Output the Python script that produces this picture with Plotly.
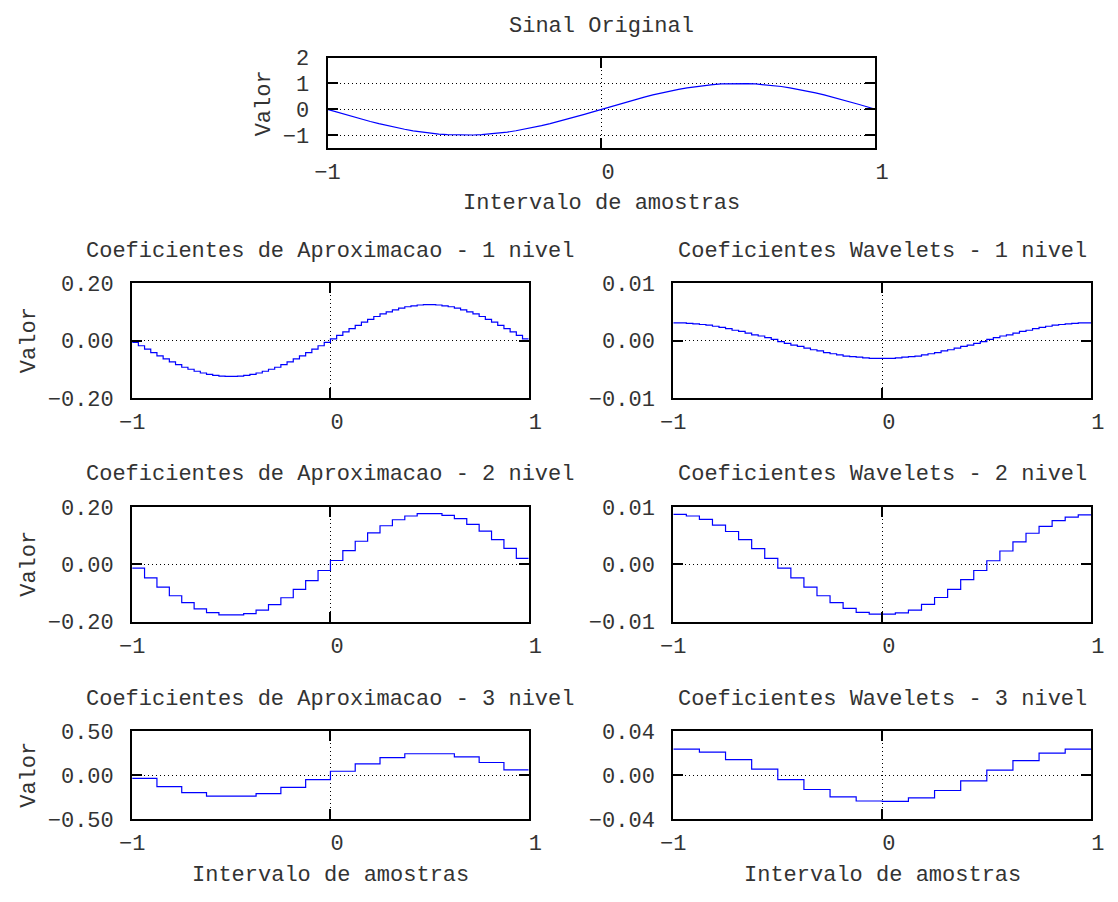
import numpy as np
import plotly.graph_objects as go

W, H = 1118, 902
FONT = "Liberation Mono"
FS = 22
TXT = "#333333"

# ---- data ----
signal_x = np.linspace(-1, 1, 65)
signal = [0.000, -0.098, -0.195, -0.290, -0.383, -0.471, -0.556, -0.634, -0.707, -0.773,
          -0.831, -0.882, -0.924, -0.957, -0.981, -0.995, -1.000, -0.995, -0.981, -0.957,
          -0.924, -0.882, -0.831, -0.773, -0.707, -0.634, -0.556, -0.471, -0.383, -0.290,
          -0.195, -0.098, 0.000, 0.098, 0.195, 0.290, 0.383, 0.471, 0.556, 0.634,
          0.707, 0.773, 0.831, 0.882, 0.924, 0.957, 0.981, 0.995, 1.000, 0.995,
          0.981, 0.957, 0.924, 0.882, 0.831, 0.773, 0.707, 0.634, 0.556, 0.471,
          0.383, 0.290, 0.195, 0.098, 0.000]

approx1 = [-0.006, -0.018, -0.030, -0.042, -0.053, -0.064, -0.074, -0.084, -0.093, -0.100,
           -0.107, -0.113, -0.118, -0.121, -0.124, -0.125, -0.125, -0.124, -0.121, -0.118,
           -0.113, -0.107, -0.100, -0.093, -0.084, -0.074, -0.064, -0.053, -0.042, -0.030,
           -0.018, -0.006,
           0.006, 0.018, 0.030, 0.042, 0.053, 0.064, 0.074, 0.084, 0.093, 0.100,
           0.107, 0.113, 0.118, 0.121, 0.124, 0.125, 0.125, 0.124, 0.121, 0.118,
           0.113, 0.107, 0.100, 0.093, 0.084, 0.074, 0.064, 0.053, 0.042, 0.030,
           0.018, 0.006]

detail1 = [0.0031, 0.0031, 0.0030, 0.0029, 0.0028, 0.0027, 0.0025, 0.0023, 0.0021, 0.0018,
           0.0016, 0.0013, 0.0010, 0.0008, 0.0005, 0.0002, -0.0002, -0.0005, -0.0008, -0.0010,
           -0.0013, -0.0016, -0.0018, -0.0021, -0.0023, -0.0025, -0.0027, -0.0028, -0.0029, -0.0030,
           -0.0031, -0.0031,
           -0.0031, -0.0031, -0.0030, -0.0029, -0.0028, -0.0027, -0.0025, -0.0023, -0.0021, -0.0018,
           -0.0016, -0.0013, -0.0010, -0.0008, -0.0005, -0.0002, 0.0002, 0.0005, 0.0008, 0.0010,
           0.0013, 0.0016, 0.0018, 0.0021, 0.0023, 0.0025, 0.0027, 0.0028, 0.0029, 0.0030,
           0.0031, 0.0031]

approx2 = [-0.014, -0.048, -0.080, -0.110, -0.134, -0.156, -0.169, -0.177, -0.177, -0.172,
           -0.160, -0.141, -0.117, -0.088, -0.057, -0.022, 0.013, 0.047, 0.080, 0.109,
           0.134, 0.155, 0.168, 0.176, 0.176, 0.170, 0.159, 0.139, 0.115, 0.086,
           0.055, 0.020]

detail2 = [0.0087, 0.0084, 0.0078, 0.0068, 0.0057, 0.0043, 0.0027, 0.0010, -0.0007, -0.0024,
           -0.0040, -0.0055, -0.0067, -0.0077, -0.0084, -0.0087, -0.0087, -0.0085, -0.0080, -0.0070,
           -0.0058, -0.0044, -0.0027, -0.0011, 0.0006, 0.0023, 0.0039, 0.0054, 0.0066, 0.0076,
           0.0082, 0.0086]

approx3 = [-0.036, -0.130, -0.200, -0.240, -0.240, -0.210, -0.140, -0.050,
           0.045, 0.130, 0.200, 0.245, 0.245, 0.210, 0.145, 0.060]

detail3 = [0.0239, 0.0210, 0.0143, 0.0055, -0.0041, -0.0131, -0.0198, -0.0236,
           -0.0239, -0.0207, -0.0140, -0.0052, 0.0047, 0.0134, 0.0201, 0.0239]

x_ticks = [-1, 0, 1]
x_ticktext = ["\u22121", "\u00a00", "\u00a01"]

panels = [
    # (values, y ticks, y tick labels, y range, title)
    (approx1, [-0.2, 0, 0.2], ["\u22120.20", "0.00", "0.20"], [-0.2, 0.2], "Coeficientes de Aproximacao - 1 nivel"),
    (detail1, [-0.01, 0, 0.01], ["\u22120.01", "0.00", "0.01"], [-0.01, 0.01], "Coeficientes Wavelets - 1 nivel"),
    (approx2, [-0.2, 0, 0.2], ["\u22120.20", "0.00", "0.20"], [-0.2, 0.2], "Coeficientes de Aproximacao - 2 nivel"),
    (detail2, [-0.01, 0, 0.01], ["\u22120.01", "0.00", "0.01"], [-0.01, 0.01], "Coeficientes Wavelets - 2 nivel"),
    (approx3, [-0.5, 0, 0.5], ["\u22120.50", "0.00", "0.50"], [-0.5, 0.5], "Coeficientes de Aproximacao - 3 nivel"),
    (detail3, [-0.04, 0, 0.04], ["\u22120.04", "0.00", "0.04"], [-0.04, 0.04], "Coeficientes Wavelets - 3 nivel"),
]

# ---- layout geometry (pixels) ----
top_box = (322, 883, 49, 142)
col_x = [(122, 528), (676, 1104)]
row_y = [(281, 399), (511, 629), (742, 832)]


def px_x(v):
    return v / W


def px_y(v):
    return 1 - v / H


def axis_common():
    return dict(
        showline=True, linewidth=2, linecolor="black", mirror="ticks",
        ticks="inside", ticklen=10, tickwidth=1.5, tickcolor="black",
        showgrid=True, gridcolor="black", gridwidth=1, griddash="1px,3px",
        zeroline=False, tickfont=dict(family=FONT, size=FS, color=TXT),
        ticklabelstandoff=3,
    )


fig = go.Figure()
layout = dict(
    width=W, height=H, margin=dict(l=0, r=0, t=0, b=0),
    paper_bgcolor="white", plot_bgcolor="white", showlegend=False,
    font=dict(family=FONT, size=FS, color=TXT),
)
annotations = []


def label(text, x, y, angle=0):
    annotations.append(dict(
        text=text, x=px_x(x), y=px_y(y), xref="paper", yref="paper",
        xanchor="center", yanchor="middle", showarrow=False, textangle=angle,
        font=dict(family=FONT, size=FS, color=TXT),
    ))


# top panel: original signal
fig.add_trace(go.Scatter(x=signal_x, y=signal, mode="lines",
                         line=dict(color="#0000ff", width=1.2),
                         xaxis="x", yaxis="y"))
l, r, t, b = top_box
layout["xaxis"] = dict(axis_common(), domain=[px_x(l), px_x(r)], range=[-1, 1],
                       tickvals=x_ticks, ticktext=x_ticktext, anchor="y")
layout["yaxis"] = dict(axis_common(), domain=[px_y(b), px_y(t)], range=[-1.5, 2],
                       tickvals=[-1, 0, 1, 2], ticktext=["\u22121", "0", "1", "2"],
                       anchor="x", ticklabelstandoff=12)
label("Sinal Original", 602, 17)
label("Valor", 257, 96, -90)
label("Intervalo de amostras", 602, 199)

# coefficient panels
for i, (vals, yt, ytt, yr, title) in enumerate(panels):
    row, col = divmod(i, 2)
    n = len(vals)
    edges = np.linspace(-1, 1, n + 1)
    xs = list(edges)
    ys = list(vals) + [vals[-1]]
    k = i + 2
    fig.add_trace(go.Scatter(x=xs, y=ys, mode="lines", line_shape="hv",
                             line=dict(color="#0000ff", width=1.2),
                             xaxis=f"x{k}", yaxis=f"y{k}"))
    xl, xr = col_x[col]
    yt_px, yb_px = row_y[row]
    layout[f"xaxis{k}"] = dict(axis_common(), domain=[px_x(xl), px_x(xr)], range=[-1, 1],
                               tickvals=x_ticks, ticktext=x_ticktext, anchor=f"y{k}")
    layout[f"yaxis{k}"] = dict(axis_common(), domain=[px_y(yb_px), px_y(yt_px)], range=yr,
                               tickvals=yt, ticktext=ytt, anchor=f"x{k}",
                               ticklabelstandoff=12)
    cx = (xl + xr) / 2
    label(title, cx, yt_px - 33)
    if col == 0:
        label("Valor", 17, (yt_px + yb_px) / 2, -90)
    if row == 2:
        label("Intervalo de amostras", cx, 890)

layout["annotations"] = annotations
fig.update_layout(**layout)
fig.write_html("out.html")
